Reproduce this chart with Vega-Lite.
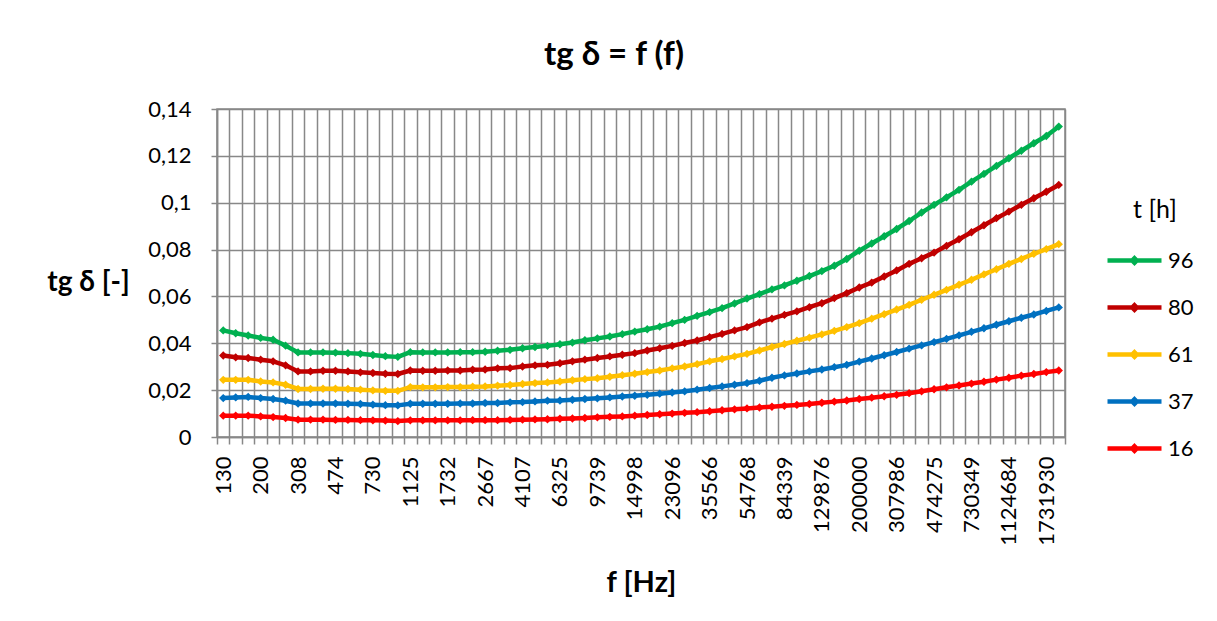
{
  "$schema": "https://vega.github.io/schema/vega-lite/v6.json",
  "width": 848,
  "height": 328,
  "autosize": {"type": "none"},
  "padding": {"left": 217, "top": 109, "right": 152, "bottom": 184},
  "background": "white",
  "title": {
    "text": "tg δ = f (f)",
    "frame": "group",
    "anchor": "middle",
    "dx": -27,
    "offset": 26,
    "font": "Lato, Open Sans, sans-serif",
    "fontSize": 33,
    "fontWeight": "bold",
    "color": "black"
  },
  "data": {
    "values": [
      {"f": "130", "96": 0.0455, "80": 0.0348, "61": 0.0244, "37": 0.0166, "16": 0.0091},
      {"f": "150", "96": 0.0443, "80": 0.0340, "61": 0.0244, "37": 0.0169, "16": 0.0091},
      {"f": "173", "96": 0.0433, "80": 0.0337, "61": 0.0244, "37": 0.0171, "16": 0.0091},
      {"f": "200", "96": 0.0423, "80": 0.0330, "61": 0.0237, "37": 0.0166, "16": 0.0088},
      {"f": "231", "96": 0.0415, "80": 0.0323, "61": 0.0233, "37": 0.0162, "16": 0.0085},
      {"f": "267", "96": 0.0390, "80": 0.0306, "61": 0.0223, "37": 0.0155, "16": 0.0081},
      {"f": "308", "96": 0.0361, "80": 0.0280, "61": 0.0205, "37": 0.0143, "16": 0.0074},
      {"f": "356", "96": 0.0361, "80": 0.0280, "61": 0.0205, "37": 0.0143, "16": 0.0074},
      {"f": "411", "96": 0.0361, "80": 0.0283, "61": 0.0206, "37": 0.0143, "16": 0.0074},
      {"f": "474", "96": 0.0360, "80": 0.0283, "61": 0.0206, "37": 0.0143, "16": 0.0073},
      {"f": "547", "96": 0.0358, "80": 0.0280, "61": 0.0205, "37": 0.0142, "16": 0.0073},
      {"f": "632", "96": 0.0355, "80": 0.0276, "61": 0.0202, "37": 0.0141, "16": 0.0072},
      {"f": "730", "96": 0.0350, "80": 0.0273, "61": 0.0199, "37": 0.0138, "16": 0.0071},
      {"f": "843", "96": 0.0345, "80": 0.0270, "61": 0.0197, "37": 0.0136, "16": 0.0070},
      {"f": "973", "96": 0.0342, "80": 0.0269, "61": 0.0197, "37": 0.0135, "16": 0.0068},
      {"f": "1125", "96": 0.0362, "80": 0.0284, "61": 0.0213, "37": 0.0142, "16": 0.0071},
      {"f": "1299", "96": 0.0361, "80": 0.0283, "61": 0.0212, "37": 0.0142, "16": 0.0071},
      {"f": "1500", "96": 0.0361, "80": 0.0283, "61": 0.0212, "37": 0.0142, "16": 0.0071},
      {"f": "1732", "96": 0.0361, "80": 0.0284, "61": 0.0213, "37": 0.0142, "16": 0.0071},
      {"f": "2000", "96": 0.0362, "80": 0.0284, "61": 0.0213, "37": 0.0143, "16": 0.0071},
      {"f": "2310", "96": 0.0362, "80": 0.0287, "61": 0.0215, "37": 0.0143, "16": 0.0072},
      {"f": "2667", "96": 0.0364, "80": 0.0288, "61": 0.0216, "37": 0.0145, "16": 0.0072},
      {"f": "3080", "96": 0.0368, "80": 0.0293, "61": 0.0219, "37": 0.0145, "16": 0.0072},
      {"f": "3556", "96": 0.0372, "80": 0.0294, "61": 0.0222, "37": 0.0148, "16": 0.0073},
      {"f": "4107", "96": 0.0379, "80": 0.0301, "61": 0.0226, "37": 0.0149, "16": 0.0074},
      {"f": "4743", "96": 0.0384, "80": 0.0306, "61": 0.0230, "37": 0.0152, "16": 0.0075},
      {"f": "5477", "96": 0.0389, "80": 0.0308, "61": 0.0233, "37": 0.0155, "16": 0.0076},
      {"f": "6325", "96": 0.0396, "80": 0.0315, "61": 0.0237, "37": 0.0156, "16": 0.0078},
      {"f": "7304", "96": 0.0403, "80": 0.0323, "61": 0.0242, "37": 0.0159, "16": 0.0079},
      {"f": "8434", "96": 0.0413, "80": 0.0330, "61": 0.0247, "37": 0.0162, "16": 0.0081},
      {"f": "9739", "96": 0.0421, "80": 0.0337, "61": 0.0251, "37": 0.0165, "16": 0.0084},
      {"f": "11246", "96": 0.0429, "80": 0.0344, "61": 0.0257, "37": 0.0169, "16": 0.0086},
      {"f": "12987", "96": 0.0439, "80": 0.0351, "61": 0.0264, "37": 0.0173, "16": 0.0088},
      {"f": "14998", "96": 0.0450, "80": 0.0358, "61": 0.0270, "37": 0.0176, "16": 0.0091},
      {"f": "17319", "96": 0.0460, "80": 0.0369, "61": 0.0277, "37": 0.0180, "16": 0.0094},
      {"f": "20000", "96": 0.0471, "80": 0.0379, "61": 0.0284, "37": 0.0185, "16": 0.0097},
      {"f": "23096", "96": 0.0486, "80": 0.0389, "61": 0.0293, "37": 0.0190, "16": 0.0100},
      {"f": "26670", "96": 0.0500, "80": 0.0401, "61": 0.0301, "37": 0.0195, "16": 0.0103},
      {"f": "30798", "96": 0.0517, "80": 0.0412, "61": 0.0311, "37": 0.0202, "16": 0.0106},
      {"f": "35566", "96": 0.0533, "80": 0.0426, "61": 0.0323, "37": 0.0209, "16": 0.0110},
      {"f": "41071", "96": 0.0550, "80": 0.0440, "61": 0.0333, "37": 0.0216, "16": 0.0114},
      {"f": "47426", "96": 0.0570, "80": 0.0455, "61": 0.0344, "37": 0.0223, "16": 0.0118},
      {"f": "54768", "96": 0.0591, "80": 0.0469, "61": 0.0355, "37": 0.0230, "16": 0.0122},
      {"f": "63245", "96": 0.0610, "80": 0.0489, "61": 0.0369, "37": 0.0240, "16": 0.0126},
      {"f": "73032", "96": 0.0630, "80": 0.0505, "61": 0.0384, "37": 0.0253, "16": 0.0129},
      {"f": "84339", "96": 0.0647, "80": 0.0521, "61": 0.0397, "37": 0.0263, "16": 0.0133},
      {"f": "97392", "96": 0.0667, "80": 0.0536, "61": 0.0411, "37": 0.0271, "16": 0.0137},
      {"f": "112465", "96": 0.0687, "80": 0.0554, "61": 0.0424, "37": 0.0280, "16": 0.0141},
      {"f": "129876", "96": 0.0708, "80": 0.0571, "61": 0.0438, "37": 0.0288, "16": 0.0146},
      {"f": "149977", "96": 0.0731, "80": 0.0593, "61": 0.0453, "37": 0.0298, "16": 0.0151},
      {"f": "173187", "96": 0.0760, "80": 0.0614, "61": 0.0469, "37": 0.0308, "16": 0.0156},
      {"f": "200000", "96": 0.0795, "80": 0.0638, "61": 0.0486, "37": 0.0322, "16": 0.0162},
      {"f": "230952", "96": 0.0826, "80": 0.0659, "61": 0.0505, "37": 0.0335, "16": 0.0168},
      {"f": "266694", "96": 0.0857, "80": 0.0685, "61": 0.0524, "37": 0.0349, "16": 0.0174},
      {"f": "307986", "96": 0.0888, "80": 0.0711, "61": 0.0544, "37": 0.0363, "16": 0.0180},
      {"f": "355650", "96": 0.0922, "80": 0.0739, "61": 0.0564, "37": 0.0377, "16": 0.0187},
      {"f": "410692", "96": 0.0958, "80": 0.0763, "61": 0.0586, "37": 0.0391, "16": 0.0195},
      {"f": "474275", "96": 0.0991, "80": 0.0787, "61": 0.0607, "37": 0.0405, "16": 0.0204},
      {"f": "547673", "96": 0.1023, "80": 0.0816, "61": 0.0628, "37": 0.0419, "16": 0.0212},
      {"f": "632429", "96": 0.1055, "80": 0.0844, "61": 0.0650, "37": 0.0434, "16": 0.0220},
      {"f": "730349", "96": 0.1090, "80": 0.0874, "61": 0.0671, "37": 0.0449, "16": 0.0228},
      {"f": "843378", "96": 0.1123, "80": 0.0904, "61": 0.0694, "37": 0.0464, "16": 0.0236},
      {"f": "973901", "96": 0.1157, "80": 0.0934, "61": 0.0716, "37": 0.0479, "16": 0.0245},
      {"f": "1124684", "96": 0.1190, "80": 0.0962, "61": 0.0739, "37": 0.0494, "16": 0.0253},
      {"f": "1298747", "96": 0.1222, "80": 0.0991, "61": 0.0760, "37": 0.0509, "16": 0.0262},
      {"f": "1499750", "96": 0.1254, "80": 0.1019, "61": 0.0782, "37": 0.0523, "16": 0.0269},
      {"f": "1731930", "96": 0.1285, "80": 0.1047, "61": 0.0802, "37": 0.0538, "16": 0.0277},
      {"f": "2000000", "96": 0.1325, "80": 0.1076, "61": 0.0823, "37": 0.0553, "16": 0.0284}
    ]
  },
  "transform": [
    {"fold": ["96", "80", "61", "37", "16"], "as": ["t", "v"]}
  ],
  "encoding": {
    "x": {
      "field": "f",
      "type": "ordinal",
      "sort": null,
      "bandPosition": 0.5,
      "scale": {"type": "band", "paddingInner": 0, "paddingOuter": 0},
      "axis": {
        "title": "f [Hz]",
        "titleFont": "Lato, Open Sans, sans-serif",
        "titleFontSize": 29,
        "titleFontWeight": "bold",
        "titleColor": "black",
        "titleBaseline": "middle",
        "titleY": 145,
        "tickBand": "extent",
        "tickSize": 7,
        "tickColor": "#888888",
        "tickWidth": 1.5,
        "domainColor": "#888888",
        "domainWidth": 1.5,
        "grid": true,
        "gridColor": "#888888",
        "gridWidth": 1.5,
        "labelAngle": 270,
        "labelAlign": "right",
        "labelBaseline": "middle",
        "labelPadding": 12,
        "labelOverlap": false,
        "labelFont": "Lato, Open Sans, sans-serif",
        "labelFontSize": 22,
        "labelColor": "black",
        "labelExpr": "indexof(['130','200','308','474','730','1125','1732','2667','4107','6325','9739','14998','23096','35566','54768','84339','129876','200000','307986','474275','730349','1124684','1731930'], datum.label) >= 0 ? datum.label : ''"
      }
    },
    "y": {
      "field": "v",
      "type": "quantitative",
      "scale": {"domain": [0, 0.14], "nice": false, "zero": true},
      "axis": {
        "title": "tg δ [-]",
        "titleFont": "Lato, Open Sans, sans-serif",
        "titleFontSize": 28,
        "titleFontWeight": "bold",
        "titleColor": "black",
        "titleAngle": 0,
        "titleAlign": "center",
        "titleBaseline": "middle",
        "titleX": -129,
        "titleY": 173,
        "values": [0, 0.02, 0.04, 0.06, 0.08, 0.1, 0.12, 0.14],
        "labelExpr": "replace(format(datum.value, '.2~f'), '.', ',')",
        "labelFont": "Lato, Open Sans, sans-serif",
        "labelFontSize": 22,
        "labelColor": "black",
        "labelPadding": 20,
        "tickSize": 6,
        "tickColor": "#888888",
        "tickWidth": 1.5,
        "domainColor": "#888888",
        "domainWidth": 1.5,
        "grid": true,
        "gridColor": "#888888",
        "gridWidth": 1.5
      }
    },
    "color": {
      "field": "t",
      "type": "nominal",
      "scale": {
        "domain": ["96", "80", "61", "37", "16"],
        "range": ["#00B050", "#C00000", "#FFC000", "#0070C0", "#FF0000"]
      },
      "legend": {
        "title": "t [h]",
        "orient": "none",
        "legendX": 900,
        "legendY": 89,
        "padding": 0,
        "titleFont": "Lato, Open Sans, sans-serif",
        "titleFontSize": 25,
        "titleFontWeight": "normal",
        "titleColor": "black",
        "titleAnchor": "middle",
        "titlePadding": 20,
        "symbolType": "M-1.8,0H1.8M0,-0.15L0.15,0L0,0.15L-0.15,0Z",
        "symbolSize": 900,
        "symbolStrokeWidth": 4.5,
        "rowPadding": 18,
        "labelOffset": 16,
        "labelFont": "Lato, Open Sans, sans-serif",
        "labelFontSize": 22,
        "labelColor": "black"
      }
    }
  },
  "layer": [
    {
      "mark": {"type": "line", "strokeWidth": 4.5, "strokeJoin": "round"}
    },
    {
      "mark": {"type": "point", "shape": "diamond", "filled": true, "size": 70, "opacity": 1},
      "encoding": {"color": {"field": "t", "type": "nominal", "legend": null}}
    }
  ],
  "config": {
    "view": {"stroke": "#888888", "strokeWidth": 1.5}
  }
}
